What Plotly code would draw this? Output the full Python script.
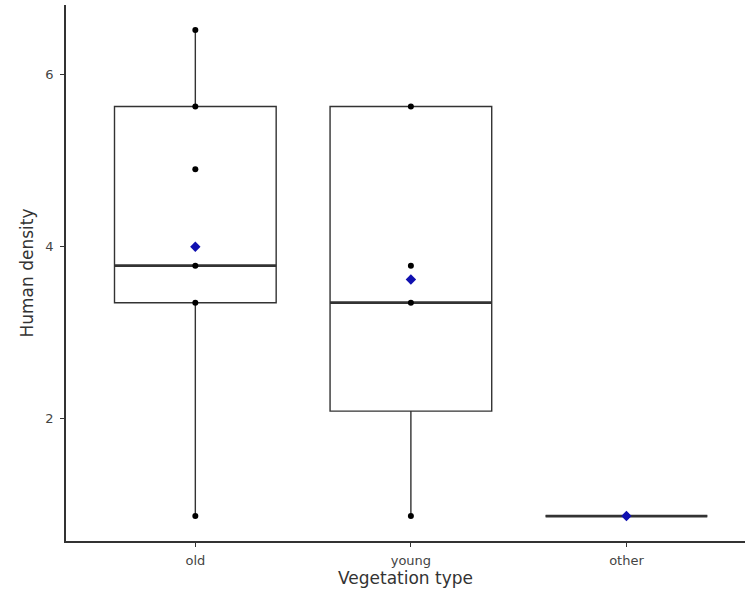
import plotly.graph_objects as go

categories = ["old", "young", "other"]
cat_pos = [0, 1, 2]

# raw observations (visible points)
old_vals = [0.87, 3.35, 3.78, 4.90, 5.63, 6.52]
young_vals = [0.87, 3.35, 3.78, 5.63]
other_vals = [0.87]

# box summary statistics
q1 = [3.35, 2.09, 0.87]
medians = [3.78, 3.35, 0.87]
q3 = [5.63, 5.63, 0.87]
lower = [0.87, 0.87, 0.87]
upper = [6.52, 5.63, 0.87]
means = [4.00, 3.62, 0.87]

box_width = 0.75
font_family = "DejaVu Sans, Verdana, sans-serif"

fig = go.Figure()

fig.add_trace(go.Box(
    x=cat_pos, q1=q1, median=medians, q3=q3,
    lowerfence=lower, upperfence=upper,
    width=box_width, whiskerwidth=0,
    fillcolor="rgba(255,255,255,0)",
    line=dict(color="#333333", width=1.4),
    boxpoints=False, showlegend=False, hoverinfo="skip",
))

# thicker median lines
mx, my = [], []
for p, m in zip(cat_pos, medians):
    mx += [p - box_width / 2, p + box_width / 2, None]
    my += [m, m, None]
fig.add_trace(go.Scatter(
    x=mx, y=my, mode="lines",
    line=dict(color="#333333", width=2.8),
    showlegend=False, hoverinfo="skip",
))

# points
for p, vals in zip(cat_pos, [old_vals, young_vals, other_vals]):
    fig.add_trace(go.Scatter(
        x=[p] * len(vals), y=vals, mode="markers",
        marker=dict(color="black", size=6),
        showlegend=False,
    ))

# means
fig.add_trace(go.Scatter(
    x=cat_pos, y=means, mode="markers",
    marker=dict(color="#1010B0", size=8, symbol="diamond"),
    showlegend=False,
))

fig.update_layout(
    width=745, height=597,
    margin=dict(l=66, r=0, t=5, b=56),
    paper_bgcolor="white", plot_bgcolor="white",
    font=dict(family=font_family),
    xaxis=dict(
        range=[-0.6, 2.55], tickvals=cat_pos, ticktext=categories,
        showgrid=False, zeroline=False, automargin=False,
        showline=True, linecolor="#333333", linewidth=1.5,
        ticks="outside", ticklen=4, tickcolor="#333333", tickwidth=1.2,
        ticklabelstandoff=3,
        tickfont=dict(size=13, color="#444444"),
        title=dict(text="Vegetation type", font=dict(size=17, color="#333333"), standoff=3),
    ),
    yaxis=dict(
        range=[0.58, 6.81], tickvals=[2, 4, 6],
        showgrid=False, zeroline=False, automargin=False,
        showline=True, linecolor="#333333", linewidth=1.5,
        ticks="outside", ticklen=4, tickcolor="#333333", tickwidth=1.2,
        ticklabelstandoff=4,
        tickfont=dict(size=13, color="#444444"),
        title=dict(text="Human density", font=dict(size=17, color="#333333"), standoff=7),
    ),
)

fig.write_html("out.html", post_script="document.body.style.margin='0';",
               config={"displayModeBar": False})
